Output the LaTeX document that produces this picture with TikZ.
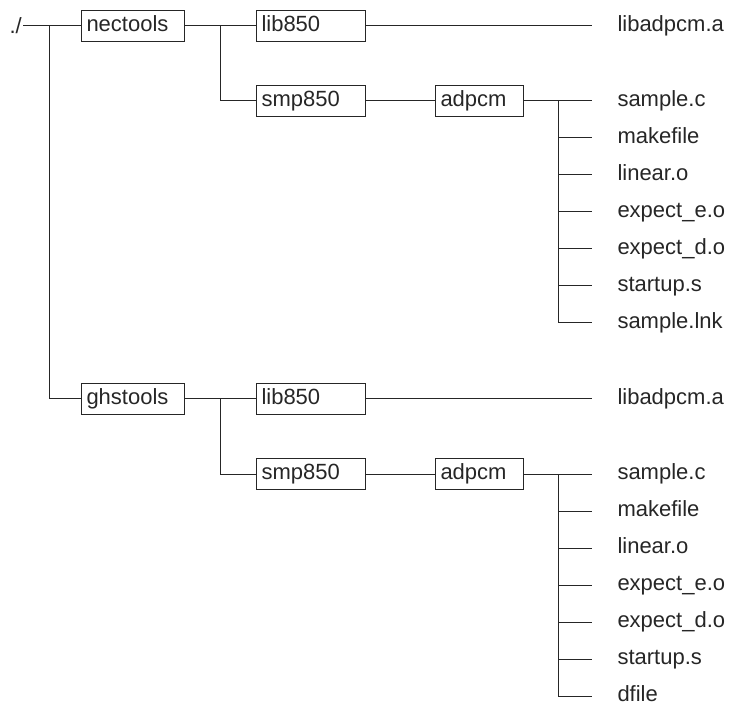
\documentclass[tikz,border=0pt]{standalone}
\usepackage{fontspec}
\setmainfont{Liberation Sans}

\begin{document}
\begin{tikzpicture}[x=1pt,y=-1pt,line width=1pt,black!85,
  font=\fontsize{22}{26}\selectfont,
  box/.style={draw,anchor=west,align=left,inner xsep=5pt,inner ysep=0pt,
    minimum height=31pt,text height=16pt,text depth=5pt},
  file/.style={anchor=west,inner xsep=25pt,inner ysep=0pt,
    text height=16pt,text depth=5pt}]
  \useasboundingbox (0,0) rectangle (739,708);
  \node[anchor=west,inner xsep=1pt] (root) at (8,26) {./};
  \coordinate (j0) at (49,26);
  \foreach \g/\dy/\tool/\last in {n/0/nectools/sample.lnk, g/373/ghstools/dfile}{
    \node[box,text width=93pt] (\g tools) at (81,{26+\dy}) {\tool};
    \node[box,text width=99pt] (\g lib) at (256,{26+\dy}) {lib850};
    \node[box,text width=99pt] (\g smp) at (256,{101+\dy}) {smp850};
    \node[box,text width=78pt] (\g adp) at (435,{101+\dy}) {adpcm};
    \node[file] (\g liba) at (592,{26+\dy}) {libadpcm.a};
    \coordinate (\g j1) at (220,{26+\dy});
    \coordinate (\g j2) at (558,{101+\dy});
    \draw (\g tools) -- (\g lib);
    \draw (\g j1) |- (\g smp);
    \draw (\g lib) -- (\g liba);
    \draw (\g smp) -- (\g adp);
    % files below adpcm
    \foreach \f [count=\i from 0] in {sample.c,makefile,linear.o,expect\_e.o,expect\_d.o,startup.s,\last}{
      \node[file] (\g f\i) at (592,{101+\dy+37*\i}) {\f};
      \draw (\g j2) |- (\g f\i);
    }
    \draw (\g adp) -- (\g f0);
  }
  \draw (root) -- (ntools);
  \draw (j0) |- (gtools);
\end{tikzpicture}
\end{document}
